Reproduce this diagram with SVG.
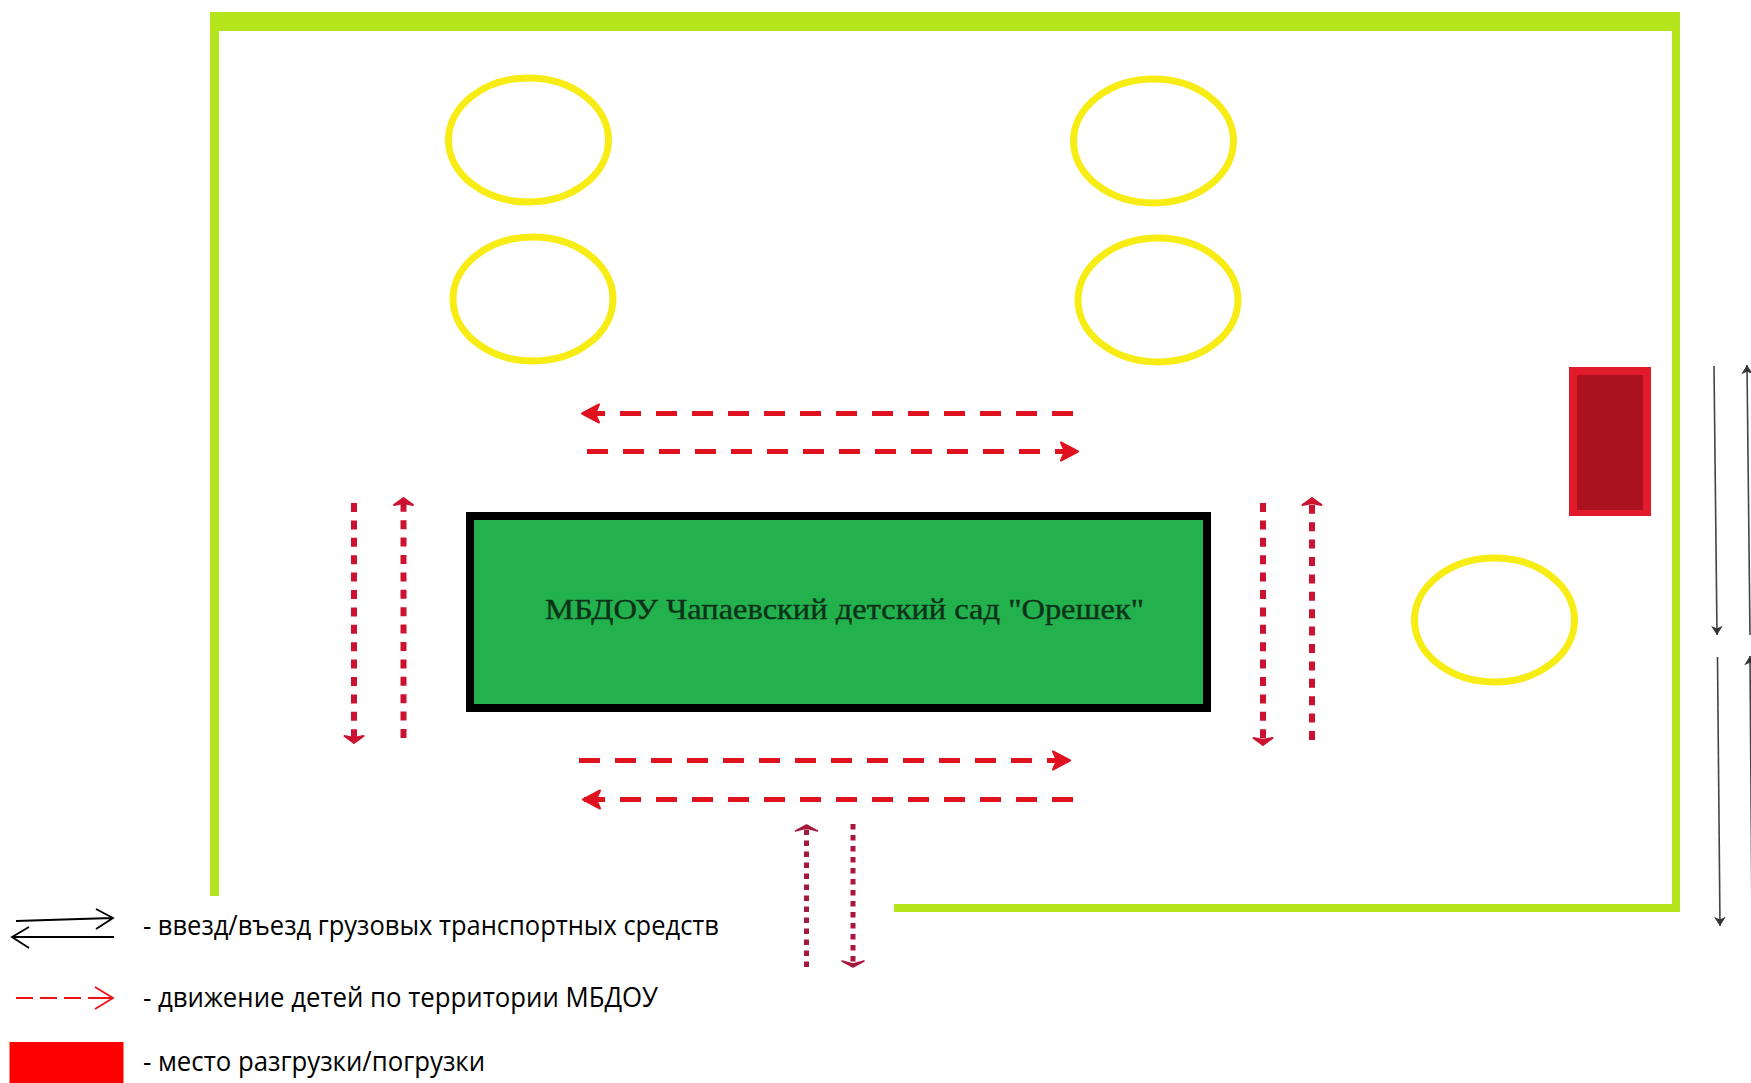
<svg xmlns="http://www.w3.org/2000/svg" width="1751" height="1083" viewBox="0 0 1751 1083">
<style>
.wall{fill:#b5e61d}
.tree{fill:none;stroke:#f7ec13;stroke-width:7}
.dash{fill:none;stroke:#e0121f;stroke-width:5;stroke-dasharray:21 15}
.dot{fill:none;stroke:#cc1230;stroke-width:6;stroke-dasharray:9 8.4}
.fine{fill:none;stroke:#a8173c;stroke-width:5;stroke-dasharray:5.5 5.5}
.truck{fill:none;stroke:#444;stroke-width:1.6}
.leg{font-family:"Open Sans","Liberation Sans",sans-serif;font-size:27px;fill:#000}
</style>
<defs>
<marker id="h1" markerUnits="userSpaceOnUse" markerWidth="30" markerHeight="30" refX="23" refY="15" orient="auto"><path d="M0 15H20M5 6L22 15L5 24L9 15Z" fill="#e0121f" stroke="#e0121f" stroke-width="2" stroke-linejoin="round"/></marker>
<marker id="h2" markerUnits="userSpaceOnUse" markerWidth="30" markerHeight="30" refX="23" refY="15" orient="auto"><path d="M16 5.500L23 15L16 24.500L18 15Z" fill="#cc1230" stroke="#cc1230" stroke-width="2" stroke-linejoin="round"/></marker>
<marker id="h3" markerUnits="userSpaceOnUse" markerWidth="30" markerHeight="30" refX="23" refY="15" orient="auto"><path d="M17 4L23 15L17 26L20 15Z" fill="#a8173c" stroke="#a8173c" stroke-width="1.500" stroke-linejoin="round"/></marker>
<marker id="h4" markerUnits="userSpaceOnUse" markerWidth="16" markerHeight="16" refX="12" refY="8" orient="auto"><path d="M4 3.500L11 8L4 12.500L6 8Z" fill="#333" stroke="#333"/></marker>
</defs>
<rect width="1751" height="1083" fill="#fff"/>
<g id="fence">
<rect class="wall" x="210" y="12" width="1470" height="19"/>
<rect class="wall" x="210" y="12" width="9" height="884"/>
<rect class="wall" x="1672" y="12" width="8" height="900"/>
<rect class="wall" x="894" y="904" width="786" height="8"/>
</g>
<g id="trees">
<ellipse class="tree" cx="528.500" cy="140" rx="80" ry="62"/>
<ellipse class="tree" cx="1153.500" cy="141" rx="80" ry="62"/>
<ellipse class="tree" cx="533" cy="299" rx="80" ry="62"/>
<ellipse class="tree" cx="1158" cy="300" rx="80" ry="62"/>
<ellipse class="tree" cx="1494.500" cy="620" rx="80" ry="62"/>
</g>
<g id="unloading">
<rect x="1569" y="367" width="82" height="149" fill="#e21b2c"/>
<rect x="1577" y="375" width="66" height="135" fill="#ab111f"/>
</g>
<g id="building">
<rect x="470" y="516" width="737" height="192" fill="#22b14c" stroke="#000" stroke-width="8"/>
<text x="545" y="619" font-family="'Liberation Serif','Times New Roman',serif" font-size="29" fill="#0c3319" stroke="#0c3319" stroke-width="0.400" textLength="599" lengthAdjust="spacingAndGlyphs">МБДОУ Чапаевский детский сад "Орешек"</text>
</g>
<g id="connectors">
<line class="dash" x1="1073" y1="413.500" x2="581" y2="413.500" marker-end="url(#h1)"/>
<line class="dash" x1="587" y1="451.500" x2="1079" y2="451.500" marker-end="url(#h1)"/>
<line class="dash" x1="579" y1="760.500" x2="1071" y2="760.500" marker-end="url(#h1)"/>
<line class="dash" x1="1073" y1="799.500" x2="582" y2="799.500" marker-end="url(#h1)"/>
<line class="dot" x1="354" y1="503" x2="354" y2="743" marker-end="url(#h2)"/>
<line class="dot" x1="403.500" y1="738" x2="403.500" y2="498" marker-end="url(#h2)"/>
<line class="dot" x1="1263" y1="503" x2="1263" y2="745" marker-end="url(#h2)"/>
<line class="dot" x1="1312" y1="740" x2="1312" y2="498" marker-end="url(#h2)"/>
<line class="fine" x1="806.500" y1="967" x2="806.500" y2="825" marker-end="url(#h3)"/>
<line class="fine" x1="853" y1="824" x2="853" y2="967" marker-end="url(#h3)"/>
<line class="truck" x1="1714" y1="366" x2="1717" y2="635" marker-end="url(#h4)"/>
<line class="truck" x1="1750" y1="635" x2="1747" y2="365" marker-end="url(#h4)"/>
<line class="truck" x1="1717.500" y1="657" x2="1720" y2="926" marker-end="url(#h4)"/>
<line class="truck" x1="1752" y1="926" x2="1750" y2="656" marker-end="url(#h4)"/>
</g>
<g id="legend">
<path d="M16 921L112 918M96 909L113 918L96 929" fill="none" stroke="#000" stroke-width="1.800"/>
<path d="M114 937H13M29 927L12 937L29 948" fill="none" stroke="#000" stroke-width="1.800"/>
<text class="leg" x="143" y="935" textLength="576" lengthAdjust="spacingAndGlyphs">- ввезд/въезд грузовых транспортных средств</text>
<path d="M16 998H100" fill="none" stroke="#f01010" stroke-width="1.800" stroke-dasharray="17 7"/>
<path d="M95 987L113 998L95 1009M88 998H113" fill="none" stroke="#f01010" stroke-width="1.800"/>
<text class="leg" x="143" y="1007" textLength="515" lengthAdjust="spacingAndGlyphs">- движение детей по территории МБДОУ</text>
<rect x="9.500" y="1042" width="114" height="41" fill="#fe0000"/>
<text class="leg" x="143" y="1071" textLength="342" lengthAdjust="spacingAndGlyphs">- место разгрузки/погрузки</text>
</g>
</svg>
